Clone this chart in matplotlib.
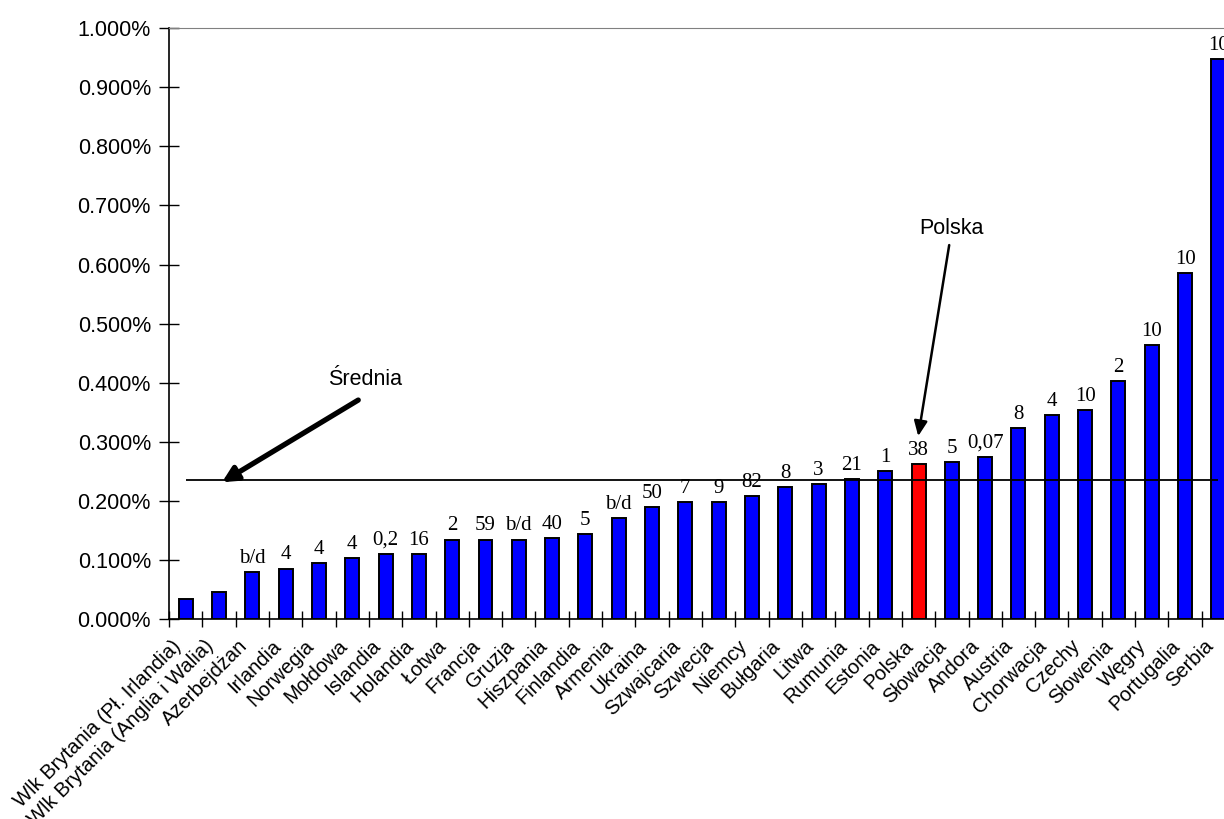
import matplotlib
matplotlib.use("Agg")
import matplotlib.pyplot as plt
from matplotlib.ticker import FuncFormatter, FixedLocator
from matplotlib.transforms import ScaledTranslation

countries = [
    "Wlk Brytania (Pł. Irlandia)", "Wlk Brytania (Anglia i Walia)", "Azerbejdżan",
    "Irlandia", "Norwegia", "Mołdowa", "Islandia", "Holandia", "Łotwa", "Francja",
    "Gruzja", "Hiszpania", "Finlandia", "Armenia", "Ukraina", "Szwajcaria",
    "Szwecja", "Niemcy", "Bułgaria", "Litwa", "Rumunia", "Estonia", "Polska",
    "Słowacja", "Andora", "Austria", "Chorwacja", "Czechy", "Słowenia", "Węgry",
    "Portugalia", "Serbia",
]
# share in percent
values = [
    0.035, 0.047, 0.080, 0.086, 0.096, 0.104, 0.111, 0.111, 0.135, 0.135,
    0.135, 0.138, 0.144, 0.172, 0.190, 0.199, 0.199, 0.209, 0.224, 0.229,
    0.237, 0.251, 0.263, 0.266, 0.275, 0.324, 0.345, 0.354, 0.403, 0.464,
    0.586, 0.948,
]
bar_labels = [
    "", "", "b/d", "4", "4", "4", "0,2", "16", "2", "59",
    "b/d", "40", "5", "b/d", "50", "7", "9", "82", "8", "3",
    "21", "1", "38", "5", "0,07", "8", "4", "10", "2", "10",
    "10", "10",
]
mean_value = 0.236
highlight = "Polska"

sans = ["Liberation Sans", "DejaVu Sans"]
serif = ["Liberation Serif", "DejaVu Serif"]

fig = plt.figure(figsize=(12.24, 8.19), dpi=100)
ax = fig.add_axes([0.1381, 0.2436, 0.8709, 0.7222])

x = list(range(len(countries)))
colors = ["#ff0000" if c == highlight else "#0000ff" for c in countries]
ax.bar(x, values, width=0.42, color=colors, edgecolor="black", linewidth=1.4, zorder=2)

for xi, v, lab in zip(x, values, bar_labels):
    if lab:
        ax.annotate(lab, (xi, v), xytext=(0, 3), textcoords="offset points",
                    ha="center", va="bottom", fontsize=15, family=serif)

# mean line
ax.hlines(mean_value, 0, len(countries) - 1, color="black", linewidth=1.3, zorder=3)

ax.set_xlim(-0.5, len(countries) - 0.5)
ax.set_ylim(0, 1.0)

ax.yaxis.set_major_locator(FixedLocator([i / 10 for i in range(11)]))
ax.yaxis.set_major_formatter(FuncFormatter(lambda v, p: f"{v:.3f}%"))
ax.tick_params(axis="y", direction="inout", length=14, width=1, labelsize=15.5, pad=6)
for t in ax.get_yticklabels():
    t.set_family(sans)

ax.set_xticks(x)
ax.set_xticklabels(countries, rotation=45, ha="right", va="center",
                   rotation_mode="anchor", fontsize=14.5, family=sans)
ax.tick_params(axis="x", which="major", length=0, pad=17)
shift = ScaledTranslation(-0.08, 0, fig.dpi_scale_trans)
for t in ax.get_xticklabels():
    t.set_transform(t.get_transform() + shift)
ax.set_xticks([i - 0.5 for i in range(len(countries) + 1)], minor=True)
ax.tick_params(axis="x", which="minor", direction="inout", length=12, width=1)

ax.spines["top"].set_color("#808080")
ax.spines["right"].set_visible(False)
ax.spines["left"].set_linewidth(1.2)
ax.spines["bottom"].set_linewidth(1.2)

# annotations
ax.text(5.39, 0.405, "Średnia", ha="center", va="center", fontsize=15.5, family=sans)
ax.annotate("", xy=(1.09, 0.232), xytext=(5.18, 0.371),
            arrowprops=dict(arrowstyle="-|>,head_length=0.9,head_width=0.45",
                            color="black", lw=3.8, shrinkA=0, shrinkB=0))
ax.text(22.98, 0.661, "Polska", ha="center", va="center", fontsize=15.5, family=sans)
ax.annotate("", xy=(21.99, 0.310), xytext=(22.92, 0.633),
            arrowprops=dict(arrowstyle="-|>,head_length=0.9,head_width=0.4",
                            color="black", lw=1.8, shrinkA=0, shrinkB=0))

fig.savefig("out.png", dpi=100)
